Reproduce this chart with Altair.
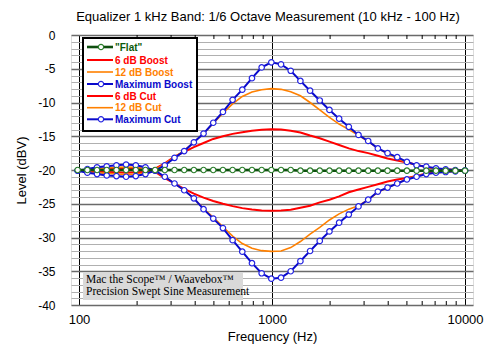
import altair as alt
import pandas as pd

# 1/6-octave measurement frequencies (Hz)
freq_hz = [98.4, 110.5, 124.0, 139.2, 156.3, 175.4, 196.9, 221.0, 248.0, 278.4,
           312.5, 350.8, 393.7, 441.9, 496.1, 556.8, 625.0, 701.5, 787.4, 883.9,
           992.1, 1113.6, 1250.0, 1403.1, 1574.9, 1767.8, 1984.3, 2227.3, 2500.0, 2806.2,
           3149.8, 3535.5, 3968.5, 4454.5, 5000.0, 5612.3, 6299.6, 7071.1, 7937.0, 8908.9,
           10000.0]

flat = [-20.0, -20.0, -20.0, -20.0, -20.0, -20.0, -20.0, -20.0, -20.0, -20.0,
        -20.0, -20.0, -20.0, -20.0, -20.0, -20.0, -20.0, -20.0, -20.0, -20.0,
        -20.0, -20.0, -20.0, -20.1, -20.1, -20.1, -20.1, -20.1, -20.1, -20.1,
        -20.1, -20.1, -20.1, -20.1, -20.1, -20.1, -20.1, -20.1, -20.1, -20.1,
        -20.1]

boost_6 = [-20.1, -20.0, -19.9, -19.85, -19.8, -19.75, -19.8, -19.85, -19.8, -19.0,
           -18.0, -17.3, -16.6, -16.0, -15.4, -15.0, -14.65, -14.4, -14.2, -14.05,
           -13.95, -14.0, -14.2, -14.45, -14.9, -15.3, -15.8, -16.3, -16.8, -17.2,
           -17.5, -17.9, -18.3, -18.6, -18.9, -19.2, -19.6, -19.8, -19.9, -20.0,
           -20.1]

boost_12 = [-20.1, -19.95, -19.8, -19.7, -19.6, -19.55, -19.6, -19.8, -19.9, -19.1,
            -18.1, -17.1, -15.9, -14.6, -13.1, -11.6, -10.2, -9.1, -8.45, -8.1,
            -7.95, -8.05, -8.4, -9.0, -10.0, -11.1, -12.2, -13.2, -14.0, -14.85,
            -15.8, -16.8, -17.6, -18.3, -18.9, -19.3, -19.6, -19.8, -19.9, -20.0,
            -20.1]

boost_max = [-20.1, -19.85, -19.6, -19.45, -19.3, -19.2, -19.3, -19.6, -20.1, -19.3,
             -18.2, -17.2, -15.9, -14.6, -13.0, -11.4, -9.6, -8.1, -6.4, -4.8,
             -4.05, -4.35, -5.3, -6.8, -8.25, -9.7, -11.1, -12.4, -13.6, -14.8,
             -15.7, -16.8, -17.5, -18.1, -18.8, -19.3, -19.5, -19.75, -19.9, -20.0,
             -20.1]

cut_6 = [-20.1, -20.2, -20.25, -20.3, -20.35, -20.4, -20.35, -20.3, -20.3, -21.2,
         -22.0, -22.8, -23.5, -24.1, -24.6, -25.0, -25.35, -25.65, -25.85, -26.0,
         -26.05, -26.0, -25.9, -25.6, -25.3, -24.8, -24.4, -23.9, -23.3, -22.9,
         -22.5, -22.1, -21.7, -21.4, -21.2, -20.9, -20.5, -20.3, -20.2, -20.15,
         -20.1]

cut_12 = [-20.1, -20.3, -20.4, -20.5, -20.6, -20.65, -20.6, -20.45, -20.2, -21.0,
          -22.0, -23.0, -24.2, -25.7, -27.0, -28.4, -29.8, -30.9, -31.6, -31.95,
          -32.05, -32.0, -31.5, -30.6, -29.5, -28.5, -27.4, -26.5, -25.8, -25.3,
          -24.4, -23.3, -22.6, -22.0, -21.3, -20.9, -20.6, -20.4, -20.3, -20.2,
          -20.1]

cut_max = [-20.1, -20.4, -20.6, -20.8, -20.9, -21.0, -20.9, -20.6, -20.1, -21.0,
           -22.0, -23.0, -24.2, -25.8, -27.2, -28.6, -30.4, -32.1, -33.8, -35.3,
           -36.1, -35.95, -35.0, -33.5, -32.0, -30.5, -29.1, -27.8, -26.6, -25.4,
           -24.4, -23.2, -22.6, -22.0, -21.4, -21.0, -20.6, -20.4, -20.3, -20.2,
           -20.1]

series_names = ['"Flat"', "6 dB Boost", "12 dB Boost", "Maximum Boost",
                "6 dB Cut", "12 dB Cut", "Maximum Cut"]
series_values = [flat, boost_6, boost_12, boost_max, cut_6, cut_12, cut_max]

x_tick_labels = [100, 1000, 10000]
x_minor_ticks = [200, 300, 400, 500, 600, 700, 800, 900,
                 2000, 3000, 4000, 5000, 6000, 7000, 8000, 9000]
y_levels = list(range(-40, 1))

title_text = "Equalizer 1 kHz Band: 1/6 Octave Measurement (10 kHz - 100 Hz)"
note_lines = ["Mac the Scope\u2122 / Waavebox\u2122", "Precision Swept Sine Measurement"]

style = {
    '"Flat"': dict(color="#0f4f0f", text="#0b5a0b", width=2.6, marker="#2a7d2a"),
    "6 dB Boost": dict(color="#ff0000", text="#ff0000", width=2.0, marker=None),
    "12 dB Boost": dict(color="#ff8000", text="#ff8000", width=1.6, marker=None),
    "Maximum Boost": dict(color="#0a0acc", text="#0a0acc", width=2.0, marker="#2323e0"),
    "6 dB Cut": dict(color="#ff0000", text="#ff0000", width=2.0, marker=None),
    "12 dB Cut": dict(color="#ff8000", text="#ff8000", width=1.6, marker=None),
    "Maximum Cut": dict(color="#0a0acc", text="#0a0acc", width=2.0, marker="#2323e0"),
}

rows = []
for name, vals in zip(series_names, series_values):
    for f, v in zip(freq_hz, vals):
        rows.append({"freq": f, "level": v, "series": name})
df = pd.DataFrame(rows)

FONT = "Liberation Sans"

x_scale = alt.Scale(type="log", domain=[90.9, 11000], nice=False)
y_scale = alt.Scale(domain=[-40, 0], nice=False, zero=False)

x_axis = alt.Axis(values=x_tick_labels, labelExpr="'' + datum.value", grid=True,
                  gridColor="#000000", gridWidth=1, ticks=False, domain=False,
                  labelPadding=8, labelFontSize=13, labelFont=FONT, labelColor="#000",
                  titleFontSize=13, titleFont=FONT, titleFontWeight="normal",
                  titlePadding=4, titleColor="#000", labelFlush=False)
y_axis = alt.Axis(values=y_levels,
                  labelExpr="datum.value % 5 == 0 ? '' + datum.value : ''",
                  grid=True,
                  gridColor=alt.condition("datum.value % 5 == 0", alt.value("#6a6a6a"), alt.value("#b0b0b0")),
                  gridWidth=alt.condition("datum.value % 5 == 0", alt.value(1.6), alt.value(1)),
                  ticks=False, domain=False, labelPadding=16, labelFontSize=12,
                  labelFont=FONT, labelColor="#000", titleFontSize=13, titleFont=FONT,
                  titleFontWeight="normal", titlePadding=9, titleColor="#000",
                  labelFlush=False)

X = alt.X("freq:Q", scale=x_scale, axis=x_axis, title="Frequency (Hz)")
Y = alt.Y("level:Q", scale=y_scale, axis=y_axis, title="Level (dBV)")

layers = []

# minor ticks on top and bottom (inward)
ticks_df = pd.DataFrame({"freq": x_minor_ticks})
for y0, y1 in [(270, 266), (0, 4)]:
    layers.append(alt.Chart(ticks_df).mark_rule(color="#000", strokeWidth=1).encode(
        x=X, y=alt.value(y0), y2=alt.value(y1)))

draw_order = ["6 dB Boost", "6 dB Cut", "12 dB Boost", "12 dB Cut",
              "Maximum Boost", "Maximum Cut", '"Flat"']
for name in draw_order:
    st = style[name]
    base = alt.Chart(df).transform_filter(alt.datum.series == name)
    layers.append(base.mark_line(color=st["color"], strokeWidth=st["width"]).encode(x=X, y=Y))
    if st["marker"]:
        layers.append(base.mark_point(shape="circle", filled=True, fill="white",
                                      stroke=st["marker"], strokeWidth=1.2, size=30,
                                      opacity=1).encode(x=X, y=Y))

one = pd.DataFrame({"k": [0]})

# legend box
layers.append(alt.Chart(one).mark_rect(fill="white", stroke="#000", strokeWidth=2).encode(
    x=alt.value(12), x2=alt.value(126), y=alt.value(3), y2=alt.value(96)))
legend_rows_y = [12, 25, 37, 49, 61, 72.7, 84.3]
for name, ry in zip(series_names, legend_rows_y):
    st = style[name]
    layers.append(alt.Chart(one).mark_rule(color=st["color"], strokeWidth=st["width"]).encode(
        x=alt.value(16), x2=alt.value(42), y=alt.value(ry)))
    if st["marker"]:
        layers.append(alt.Chart(one).mark_point(shape="circle", filled=True, fill="white",
                                                stroke=st["marker"], strokeWidth=1.2,
                                                size=28, opacity=1).encode(
            x=alt.value(30), y=alt.value(ry)))
    layers.append(alt.Chart(pd.DataFrame({"t": [name]})).mark_text(
        align="left", baseline="middle", font=FONT, fontSize=10, fontWeight="bold",
        color=st["text"]).encode(x=alt.value(44), y=alt.value(ry + 0.5), text="t:N"))

# measurement note box
layers.append(alt.Chart(one).mark_rect(fill="#d9d9d9").encode(
    x=alt.value(12), x2=alt.value(172), y=alt.value(237), y2=alt.value(265)))
for line, ly in zip(note_lines, [245.3, 257.3]):
    layers.append(alt.Chart(pd.DataFrame({"t": [line]})).mark_text(
        align="left", baseline="middle", font="Liberation Serif", fontSize=11.5,
        color="#000").encode(x=alt.value(15), y=alt.value(ly), text="t:N"))

chart = alt.layer(*layers).properties(
    width=402, height=270,
    title=alt.TitleParams(title_text, fontSize=13, font=FONT, fontWeight="normal",
                          anchor="middle", offset=5, color="#000", dx=-4),
    autosize=alt.AutoSizeParams(type="none"),
    padding={"left": 63, "top": 27, "right": 15, "bottom": 45},
).configure_view(stroke="#000", strokeWidth=1.2).configure(background="white")

chart.save("out.html", embed_options={"renderer": "svg", "actions": False})
